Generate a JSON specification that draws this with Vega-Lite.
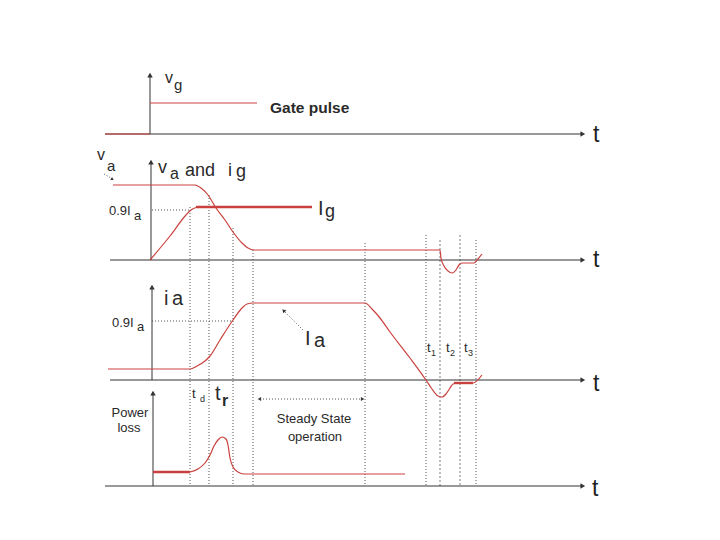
{
  "$schema": "https://vega.github.io/schema/vega-lite/v6.json",
  "width": 720,
  "height": 540,
  "autosize": {"type": "fit", "contains": "padding"},
  "padding": 0,
  "background": "white",
  "config": {"view": {"stroke": null}, "text": {"font": "Liberation Sans", "color": "#2a2a2a", "align": "left", "baseline": "alphabetic"}},
  "datasets": {
    "axes": [
      {"x": 105, "y": 134, "x2": 582, "y2": 134},
      {"x": 150, "y": 134, "x2": 150, "y2": 76},
      {"x": 110, "y": 260, "x2": 582, "y2": 260},
      {"x": 151, "y": 260, "x2": 151, "y2": 163},
      {"x": 110, "y": 380, "x2": 582, "y2": 380},
      {"x": 152, "y": 380, "x2": 152, "y2": 288},
      {"x": 105, "y": 486, "x2": 582, "y2": 486},
      {"x": 153, "y": 486, "x2": 153, "y2": 394}
    ],
    "arrows": [
      {"x": 582, "y": 134, "d": "r"},
      {"x": 582, "y": 260, "d": "r"},
      {"x": 582, "y": 380, "d": "r"},
      {"x": 582, "y": 486, "d": "r"},
      {"x": 150, "y": 76, "d": "u"},
      {"x": 151, "y": 163, "d": "u"},
      {"x": 152, "y": 288, "d": "u"},
      {"x": 153, "y": 394, "d": "u"},
      {"x": 362, "y": 399, "d": "rs"},
      {"x": 260, "y": 399, "d": "ls"},
      {"x": 284, "y": 311, "d": "ul"},
      {"x": 112, "y": 179, "d": "dr"}
    ],
    "dots": [
      {"x": 190, "y": 207, "x2": 190, "y2": 486, "k": "d"},
      {"x": 209, "y": 195, "x2": 209, "y2": 486, "k": "d"},
      {"x": 233, "y": 228, "x2": 233, "y2": 486, "k": "d"},
      {"x": 253, "y": 250, "x2": 253, "y2": 486, "k": "d"},
      {"x": 365, "y": 243, "x2": 365, "y2": 486, "k": "d"},
      {"x": 426, "y": 235, "x2": 426, "y2": 486, "k": "d"},
      {"x": 476, "y": 240, "x2": 476, "y2": 486, "k": "d"},
      {"x": 440, "y": 240, "x2": 440, "y2": 486, "k": "g"},
      {"x": 460, "y": 235, "x2": 460, "y2": 486, "k": "g"},
      {"x": 152, "y": 210, "x2": 190, "y2": 210, "k": "d"},
      {"x": 152, "y": 321, "x2": 233, "y2": 321, "k": "d"},
      {"x": 303, "y": 330, "x2": 284, "y2": 311, "k": "d"},
      {"x": 260, "y": 399, "x2": 362, "y2": 399, "k": "d"},
      {"x": 104, "y": 174, "x2": 111, "y2": 178, "k": "d"}
    ],
    "thin": [
      {"s": "gb", "o": 1, "x": 105, "y": 134}, {"s": "gb", "o": 2, "x": 150, "y": 134},
      {"s": "gp", "o": 1, "x": 150, "y": 103}, {"s": "gp", "o": 2, "x": 257, "y": 103},
      {"s": "va", "o": 1, "x": 113, "y": 185}, {"s": "va", "o": 2, "x": 195, "y": 185},
      {"s": "va", "o": 3, "x": 201, "y": 188}, {"s": "va", "o": 4, "x": 208, "y": 195},
      {"s": "va", "o": 5, "x": 216, "y": 208}, {"s": "va", "o": 6, "x": 225, "y": 220},
      {"s": "va", "o": 7, "x": 233, "y": 232}, {"s": "va", "o": 8, "x": 242, "y": 243},
      {"s": "va", "o": 9, "x": 248, "y": 248}, {"s": "va", "o": 10, "x": 254, "y": 250},
      {"s": "va", "o": 11, "x": 440, "y": 250}, {"s": "va", "o": 12, "x": 441, "y": 258},
      {"s": "va", "o": 13, "x": 444, "y": 266}, {"s": "va", "o": 14, "x": 448, "y": 271},
      {"s": "va", "o": 15, "x": 452, "y": 273}, {"s": "va", "o": 16, "x": 456, "y": 270},
      {"s": "va", "o": 17, "x": 459, "y": 265}, {"s": "va", "o": 18, "x": 462, "y": 263},
      {"s": "va", "o": 19, "x": 474, "y": 263}, {"s": "va", "o": 20, "x": 478, "y": 259},
      {"s": "va", "o": 21, "x": 482, "y": 254},
      {"s": "ig", "o": 1, "x": 150, "y": 260}, {"s": "ig", "o": 2, "x": 170, "y": 236},
      {"s": "ig", "o": 3, "x": 186, "y": 215}, {"s": "ig", "o": 4, "x": 191, "y": 210},
      {"s": "ig", "o": 5, "x": 196, "y": 207.5}, {"s": "ig", "o": 6, "x": 200, "y": 207},
      {"s": "ia", "o": 1, "x": 108, "y": 369}, {"s": "ia", "o": 2, "x": 190, "y": 369},
      {"s": "ia", "o": 3, "x": 197, "y": 366}, {"s": "ia", "o": 4, "x": 205, "y": 361},
      {"s": "ia", "o": 5, "x": 210, "y": 356}, {"s": "ia", "o": 6, "x": 220, "y": 340},
      {"s": "ia", "o": 7, "x": 233, "y": 320}, {"s": "ia", "o": 8, "x": 242, "y": 308},
      {"s": "ia", "o": 9, "x": 247, "y": 304}, {"s": "ia", "o": 10, "x": 253, "y": 303},
      {"s": "ia", "o": 11, "x": 365, "y": 303}, {"s": "ia", "o": 12, "x": 372, "y": 309},
      {"s": "ia", "o": 13, "x": 380, "y": 318}, {"s": "ia", "o": 14, "x": 390, "y": 332},
      {"s": "ia", "o": 15, "x": 410, "y": 358}, {"s": "ia", "o": 16, "x": 426, "y": 380},
      {"s": "ia", "o": 17, "x": 432, "y": 389}, {"s": "ia", "o": 18, "x": 438, "y": 396},
      {"s": "ia", "o": 19, "x": 442, "y": 397}, {"s": "ia", "o": 20, "x": 446, "y": 394},
      {"s": "ia", "o": 21, "x": 450, "y": 388}, {"s": "ia", "o": 22, "x": 453, "y": 384},
      {"s": "ia", "o": 23, "x": 458, "y": 383}, {"s": "ia", "o": 24, "x": 473, "y": 383},
      {"s": "ia", "o": 25, "x": 482, "y": 375},
      {"s": "pw", "o": 1, "x": 190, "y": 472}, {"s": "pw", "o": 2, "x": 198, "y": 469},
      {"s": "pw", "o": 3, "x": 205, "y": 463}, {"s": "pw", "o": 4, "x": 210, "y": 455},
      {"s": "pw", "o": 5, "x": 214, "y": 446}, {"s": "pw", "o": 6, "x": 218, "y": 440},
      {"s": "pw", "o": 7, "x": 222, "y": 437}, {"s": "pw", "o": 8, "x": 226, "y": 439},
      {"s": "pw", "o": 9, "x": 228, "y": 445}, {"s": "pw", "o": 10, "x": 230, "y": 458},
      {"s": "pw", "o": 11, "x": 233, "y": 467}, {"s": "pw", "o": 12, "x": 238, "y": 472},
      {"s": "pw", "o": 13, "x": 244, "y": 474}, {"s": "pw", "o": 14, "x": 405, "y": 474}
    ],
    "thick": [
      {"s": "igT", "o": 1, "x": 196, "y": 207}, {"s": "igT", "o": 2, "x": 312, "y": 207},
      {"s": "iaT", "o": 1, "x": 454, "y": 383}, {"s": "iaT", "o": 2, "x": 473, "y": 383},
      {"s": "pwT", "o": 1, "x": 153, "y": 472}, {"s": "pwT", "o": 2, "x": 190, "y": 472}
    ],
    "labels": [
      {"t": "v", "x": 165, "y": 83, "k": "m16"},
      {"t": "g", "x": 174, "y": 90, "k": "m15"},
      {"t": "Gate pulse", "x": 270, "y": 113, "k": "gate"},
      {"t": "t", "x": 593, "y": 142, "k": "T"},
      {"t": "t", "x": 593, "y": 267, "k": "T"},
      {"t": "t", "x": 593, "y": 391, "k": "T"},
      {"t": "t", "x": 592, "y": 496, "k": "T"},
      {"t": "v", "x": 97, "y": 160, "k": "m16"},
      {"t": "a", "x": 107, "y": 171, "k": "m15"},
      {"t": "v", "x": 158, "y": 173, "k": "big"},
      {"t": "a", "x": 170, "y": 179, "k": "m16"},
      {"t": "and", "x": 185, "y": 176, "k": "big"},
      {"t": "i", "x": 228, "y": 176, "k": "big"},
      {"t": "g", "x": 236, "y": 177, "k": "big"},
      {"t": "0.9I", "x": 109, "y": 215, "k": "lab"},
      {"t": "a", "x": 134, "y": 220, "k": "lab"},
      {"t": "I", "x": 318, "y": 215, "k": "b20"},
      {"t": "g", "x": 325, "y": 217, "k": "big"},
      {"t": "i", "x": 164, "y": 305, "k": "b20"},
      {"t": "a", "x": 172, "y": 305, "k": "b20"},
      {"t": "0.9I", "x": 112, "y": 327, "k": "lab"},
      {"t": "a", "x": 137, "y": 331, "k": "lab"},
      {"t": "I", "x": 305, "y": 345, "k": "b20"},
      {"t": "a", "x": 314, "y": 347, "k": "b20"},
      {"t": "t", "x": 427, "y": 352, "k": "tt"},
      {"t": "1", "x": 431, "y": 356, "k": "ts"},
      {"t": "t", "x": 446, "y": 352, "k": "tt"},
      {"t": "2", "x": 450, "y": 356, "k": "ts"},
      {"t": "t", "x": 464, "y": 352, "k": "tt"},
      {"t": "3", "x": 468, "y": 356, "k": "ts"},
      {"t": "Power", "x": 130, "y": 417, "k": "pl"},
      {"t": "loss", "x": 129, "y": 432, "k": "pl"},
      {"t": "t", "x": 192, "y": 398, "k": "tt"},
      {"t": "d", "x": 200, "y": 402, "k": "ts"},
      {"t": "t", "x": 215, "y": 400, "k": "b20"},
      {"t": "r", "x": 222, "y": 406, "k": "rb"},
      {"t": "Steady State", "x": 314, "y": 423, "k": "ss"},
      {"t": "operation", "x": 315, "y": 441, "k": "ss"}
    ]
  },
  "encoding": {
    "x": {"field": "x", "type": "quantitative", "scale": {"domain": [0, 720], "nice": false, "zero": false}, "axis": null},
    "y": {"field": "y", "type": "quantitative", "scale": {"domain": [0, 540], "nice": false, "zero": false, "reverse": true}, "axis": null}
  },
  "layer": [
    {
      "data": {"name": "dots"},
      "transform": [{"filter": "datum.k == 'g'"}],
      "mark": {"type": "rule", "color": "#bdbdbd", "strokeWidth": 2, "strokeDash": [2, 2]},
      "encoding": {"x2": {"field": "x2"}, "y2": {"field": "y2"}}
    },
    {
      "data": {"name": "dots"},
      "transform": [{"filter": "datum.k == 'd'"}],
      "mark": {"type": "rule", "color": "#555555", "strokeWidth": 1, "strokeDash": [1, 2]},
      "encoding": {"x2": {"field": "x2"}, "y2": {"field": "y2"}}
    },
    {
      "data": {"name": "axes"},
      "mark": {"type": "rule", "color": "#333333", "strokeWidth": 1},
      "encoding": {"x2": {"field": "x2"}, "y2": {"field": "y2"}}
    },
    {
      "data": {"name": "arrows"},
      "transform": [{"filter": "datum.d == 'r'"}],
      "mark": {"type": "point", "shape": "triangle", "angle": 90, "filled": true, "color": "#333333", "size": 30, "opacity": 1}
    },
    {
      "data": {"name": "arrows"},
      "transform": [{"filter": "datum.d == 'u'"}],
      "mark": {"type": "point", "shape": "triangle", "angle": 0, "filled": true, "color": "#333333", "size": 30, "opacity": 1}
    },
    {
      "data": {"name": "arrows"},
      "transform": [{"filter": "datum.d == 'rs'"}],
      "mark": {"type": "point", "shape": "triangle", "angle": 90, "filled": true, "color": "#333333", "size": 16, "opacity": 1}
    },
    {
      "data": {"name": "arrows"},
      "transform": [{"filter": "datum.d == 'ls'"}],
      "mark": {"type": "point", "shape": "triangle", "angle": 270, "filled": true, "color": "#333333", "size": 16, "opacity": 1}
    },
    {
      "data": {"name": "arrows"},
      "transform": [{"filter": "datum.d == 'ul'"}],
      "mark": {"type": "point", "shape": "triangle", "angle": 316, "filled": true, "color": "#333333", "size": 18, "opacity": 1}
    },
    {
      "data": {"name": "arrows"},
      "transform": [{"filter": "datum.d == 'dr'"}],
      "mark": {"type": "point", "shape": "triangle", "angle": 120, "filled": true, "color": "#333333", "size": 12, "opacity": 1}
    },
    {
      "data": {"name": "thin"},
      "mark": {"type": "line", "color": "#c9413e", "strokeWidth": 1.2, "interpolate": "monotone"},
      "encoding": {"detail": {"field": "s"}, "order": {"field": "o", "type": "quantitative"}}
    },
    {
      "data": {"name": "thick"},
      "mark": {"type": "line", "color": "#c9413e", "strokeWidth": 2.4},
      "encoding": {"detail": {"field": "s"}, "order": {"field": "o", "type": "quantitative"}}
    },
    {"data": {"name": "labels"}, "transform": [{"filter": "datum.k == 'm16'"}], "mark": {"type": "text", "fontSize": 16}, "encoding": {"text": {"field": "t"}}},
    {"data": {"name": "labels"}, "transform": [{"filter": "datum.k == 'm15'"}], "mark": {"type": "text", "fontSize": 15}, "encoding": {"text": {"field": "t"}}},
    {"data": {"name": "labels"}, "transform": [{"filter": "datum.k == 'big'"}], "mark": {"type": "text", "fontSize": 18}, "encoding": {"text": {"field": "t"}}},
    {"data": {"name": "labels"}, "transform": [{"filter": "datum.k == 'b20'"}], "mark": {"type": "text", "fontSize": 20}, "encoding": {"text": {"field": "t"}}},
    {"data": {"name": "labels"}, "transform": [{"filter": "datum.k == 'lab'"}], "mark": {"type": "text", "fontSize": 13}, "encoding": {"text": {"field": "t"}}},
    {"data": {"name": "labels"}, "transform": [{"filter": "datum.k == 'gate'"}], "mark": {"type": "text", "fontSize": 15.5, "fontWeight": "bold"}, "encoding": {"text": {"field": "t"}}},
    {"data": {"name": "labels"}, "transform": [{"filter": "datum.k == 'T'"}], "mark": {"type": "text", "fontSize": 23, "color": "#222222"}, "encoding": {"text": {"field": "t"}}},
    {"data": {"name": "labels"}, "transform": [{"filter": "datum.k == 'tt'"}], "mark": {"type": "text", "fontSize": 13}, "encoding": {"text": {"field": "t"}}},
    {"data": {"name": "labels"}, "transform": [{"filter": "datum.k == 'ts'"}], "mark": {"type": "text", "fontSize": 9}, "encoding": {"text": {"field": "t"}}},
    {"data": {"name": "labels"}, "transform": [{"filter": "datum.k == 'rb'"}], "mark": {"type": "text", "fontSize": 16, "fontWeight": "bold"}, "encoding": {"text": {"field": "t"}}},
    {"data": {"name": "labels"}, "transform": [{"filter": "datum.k == 'pl'"}], "mark": {"type": "text", "fontSize": 13, "align": "center"}, "encoding": {"text": {"field": "t"}}},
    {"data": {"name": "labels"}, "transform": [{"filter": "datum.k == 'ss'"}], "mark": {"type": "text", "fontSize": 13, "align": "center"}, "encoding": {"text": {"field": "t"}}}
  ]
}
